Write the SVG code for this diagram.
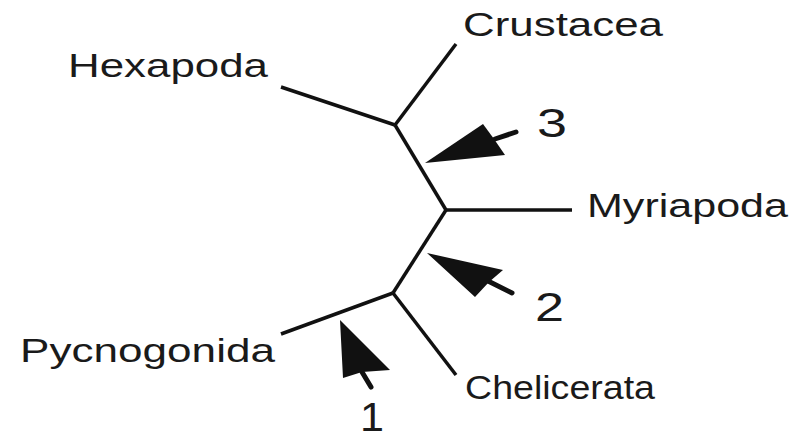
<svg xmlns="http://www.w3.org/2000/svg" width="796" height="440" viewBox="0 0 796 440">
<style>
.br{stroke:#111;stroke-width:3.5;fill:none;stroke-linecap:butt}
.lbl{font-family:"Liberation Sans",Arial,sans-serif;font-size:33px;fill:#1a1a1a}
.num{font-family:"Liberation Sans",Arial,sans-serif;font-size:41px;fill:#1a1a1a}
.head{fill:#111}
.shaft{stroke:#111;stroke-width:5;stroke-linecap:round}
</style>
<rect width="796" height="440" fill="#fff"/>
<g id="connectors">
<line class="br" x1="281" y1="87" x2="395" y2="125"/>
<line class="br" x1="456" y1="44" x2="395" y2="125"/>
<line class="br" x1="395" y1="125" x2="446" y2="210"/>
<line class="br" x1="446" y1="210" x2="572" y2="210"/>
<line class="br" x1="446" y1="210" x2="393" y2="293"/>
<line class="br" x1="281" y1="334" x2="393" y2="293"/>
<line class="br" x1="393" y1="293" x2="456" y2="375"/>
</g>
<g id="arrow3">
<line class="shaft" x1="495" y1="139" x2="516" y2="132"/>
<polygon class="head" points="425,163 483,124 494,139 505,155"/>
</g>
<g id="arrow2">
<line class="shaft" x1="488" y1="281" x2="512" y2="293"/>
<polygon class="head" points="427,253 503,270 489,282 475,297"/>
</g>
<g id="arrow1">
<line class="shaft" x1="362" y1="372" x2="371" y2="387"/>
<polygon class="head" points="340,320 390,370 362,372 343,378"/>
</g>
<g id="Crustacea"><text class="lbl" x="463" y="36" textLength="200" lengthAdjust="spacingAndGlyphs">Crustacea</text></g>
<g id="Hexapoda"><text class="lbl" x="68" y="77" textLength="200" lengthAdjust="spacingAndGlyphs">Hexapoda</text></g>
<g id="Myriapoda"><text class="lbl" x="587" y="217" textLength="201" lengthAdjust="spacingAndGlyphs">Myriapoda</text></g>
<g id="Pycnogonida"><text class="lbl" x="20" y="362" textLength="255" lengthAdjust="spacingAndGlyphs">Pycnogonida</text></g>
<g id="Chelicerata"><text class="lbl" x="465" y="399" textLength="190" lengthAdjust="spacingAndGlyphs">Chelicerata</text></g>
<g id="label3"><text class="num" x="537" y="137" textLength="30" lengthAdjust="spacingAndGlyphs">3</text></g>
<g id="label2"><text class="num" x="535" y="321" textLength="29" lengthAdjust="spacingAndGlyphs">2</text></g>
<g id="label1"><text class="num" x="360" y="431" font-size="38" textLength="24" lengthAdjust="spacingAndGlyphs">1</text></g>
</svg>
